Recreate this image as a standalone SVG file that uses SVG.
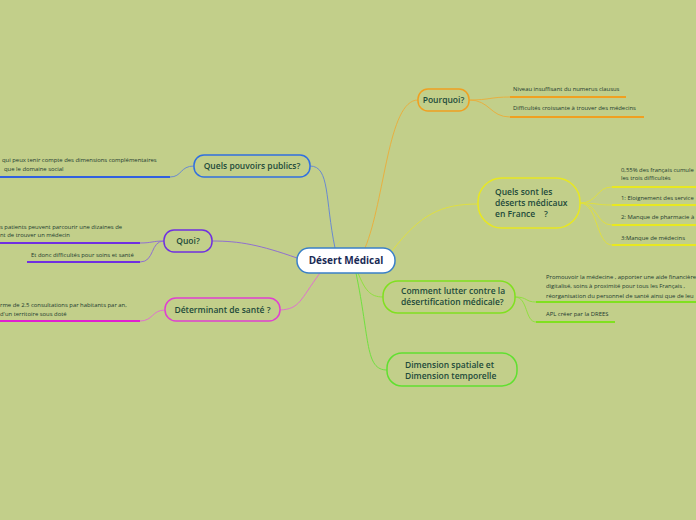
<svg xmlns="http://www.w3.org/2000/svg" width="696" height="520" viewBox="0 0 696 520">
<style>
.n{font-family:"Open Sans","Noto Sans",sans-serif;font-size:8.5px;font-weight:600;fill:#1d4a3a;white-space:pre}
.c{font-family:"Open Sans","Noto Sans",sans-serif;font-size:10px;font-weight:700;fill:#1a2a55}
.l{font-family:"Open Sans","Noto Sans",sans-serif;font-size:5.9px;fill:#1d3a30}
.cn{fill:none;stroke-width:1}
.u{fill:none;stroke-width:2}
.b{stroke-width:1.5}
</style>
<rect width="696" height="520" fill="#c2cf8a"/>
<g id="connectors">
<path class="cn" stroke="#e8b040" d="M365,248 C385,200 388,100 418,100"/>
<path class="cn" stroke="#6a8ad0" d="M335,248 C325,200 330,166 310,166"/>
<path class="cn" stroke="#e0e040" d="M392,251 C420,215 440,204 478,204"/>
<path class="cn" stroke="#9070d0" d="M297,258 C260,245 240,241 212,241"/>
<path class="cn" stroke="#e070d0" d="M320,273 C300,300 300,309 280,310"/>
<path class="cn" stroke="#90e040" d="M358,273 C365,290 370,297 383,297"/>
<path class="cn" stroke="#70e040" d="M356,273 C370,340 365,370 387,370"/>
<path class="cn" stroke="#e8b040" d="M469,100 C490,100 490,97 510,97 M469,100 C490,100 490,117 510,117"/>
<path class="cn" stroke="#e0e040" d="M580,203 C598,203 596,187 612,187 M580,203 C598,203 596,205 612,205 M580,203 C598,203 596,225 612,225 M580,203 C598,203 596,245 612,245"/>
<path class="cn" stroke="#90e040" d="M515,297 C528,297 525,302 536,302 M515,297 C528,297 525,322 536,322"/>
<path class="cn" stroke="#6a8ad0" d="M194,166 C180,166 182,177 170,177"/>
<path class="cn" stroke="#9070d0" d="M164,241 C152,241 152,243 140,243 M164,241 C150,241 155,262 140,262"/>
<path class="cn" stroke="#e070d0" d="M165,310 C152,310 153,321 140,321"/>
</g>
<g id="center">
<rect class="b" x="297" y="248" width="98" height="25" rx="12" fill="#ffffff" stroke="#3a80c8"/>
<text class="c" x="346" y="264" text-anchor="middle">Désert Médical</text>
</g>
<g id="pourquoi">
<rect class="b" x="418" y="89" width="51" height="22" rx="10" fill="none" stroke="#f0a020"/>
<text class="n" x="443.5" y="103" text-anchor="middle">Pourquoi?</text>
<text class="l" x="513" y="91">Niveau insuffisant du numerus clausus</text>
<path class="u" stroke="#f0a020" d="M510,97 H626"/>
<text class="l" x="513" y="110">Difficultés croissante à trouver des médecins</text>
<path class="u" stroke="#f0a020" d="M510,117 H644"/>
</g>
<g id="deserts">
<rect class="b" x="478" y="178" width="102" height="50" rx="24" fill="none" stroke="#e8e820"/>
<text class="n" x="495" y="195">Quels sont les</text>
<text class="n" x="495" y="206">déserts médicaux</text>
<text class="n" x="495" y="217">en France    ?</text>
<text class="l" x="621" y="172">0,55% des français cumule</text>
<text class="l" x="621" y="180">les trois difficultés</text>
<path class="u" stroke="#e8e820" d="M612,187 H696"/>
<text class="l" x="621" y="200">1:  Eloignement des service</text>
<path class="u" stroke="#e8e820" d="M612,205 H696"/>
<text class="l" x="621" y="219">2:  Manque de pharmacie à</text>
<path class="u" stroke="#e8e820" d="M612,225 H696"/>
<text class="l" x="621" y="240">3:Manque de médecins</text>
<path class="u" stroke="#e8e820" d="M612,245 H696"/>
</g>
<g id="lutter">
<rect class="b" x="383" y="281" width="132" height="32" rx="15" fill="none" stroke="#80e020"/>
<text class="n" x="401" y="294">Comment lutter contre la</text>
<text class="n" x="401" y="305">désertification médicale?</text>
<text class="l" x="546" y="279">Promouvoir la médecine , apporter une aide financière</text>
<text class="l" x="546" y="288">digitalisé, soins à proximité pour tous les Français ,</text>
<text class="l" x="546" y="298">réorganisation du personnel de santé ainsi que de leu</text>
<path class="u" stroke="#80e020" d="M536,302 H696"/>
<text class="l" x="546" y="316">APL créer par la DREES</text>
<path class="u" stroke="#80e020" d="M536,322 H615"/>
</g>
<g id="dimension">
<rect class="b" x="387" y="353" width="130" height="33" rx="15" fill="none" stroke="#60e030"/>
<text class="n" x="405" y="368">Dimension spatiale et</text>
<text class="n" x="405" y="379">Dimension temporelle</text>
</g>
<g id="pouvoirs">
<rect class="b" x="194" y="155" width="116" height="22" rx="10" fill="none" stroke="#3070e0"/>
<text class="n" x="252" y="169" text-anchor="middle">Quels pouvoirs publics?</text>
<text class="l" x="2" y="162">qui peux tenir compte des dimensions complémentaires</text>
<text class="l" x="4" y="171">que le domaine social</text>
<path class="u" stroke="#3060e0" d="M0,177 H170"/>
</g>
<g id="quoi">
<rect class="b" x="164" y="230" width="48" height="22" rx="10" fill="none" stroke="#7030e0"/>
<text class="n" x="188" y="244" text-anchor="middle">Quoi?</text>
<text class="l" x="0" y="229">s patients peuvent parcourir une dizaines de</text>
<text class="l" x="0" y="237">nt de trouver un médecin</text>
<path class="u" stroke="#7030e0" d="M0,243 H140"/>
<text class="l" x="31" y="257">Et donc difficultés pour soins et santé</text>
<path class="u" stroke="#7030e0" d="M27,262 H140"/>
</g>
<g id="determinant">
<rect class="b" x="165" y="298" width="115" height="23" rx="11" fill="none" stroke="#e040d0"/>
<text class="n" x="222.5" y="313" text-anchor="middle">Déterminant de santé ?</text>
<text class="l" x="0" y="307">rme de 2.5 consultations par habitants par an,</text>
<text class="l" x="0" y="316">d'un territoire sous doté</text>
<path class="u" stroke="#e020d0" d="M0,321 H140"/>
</g>
</svg>
